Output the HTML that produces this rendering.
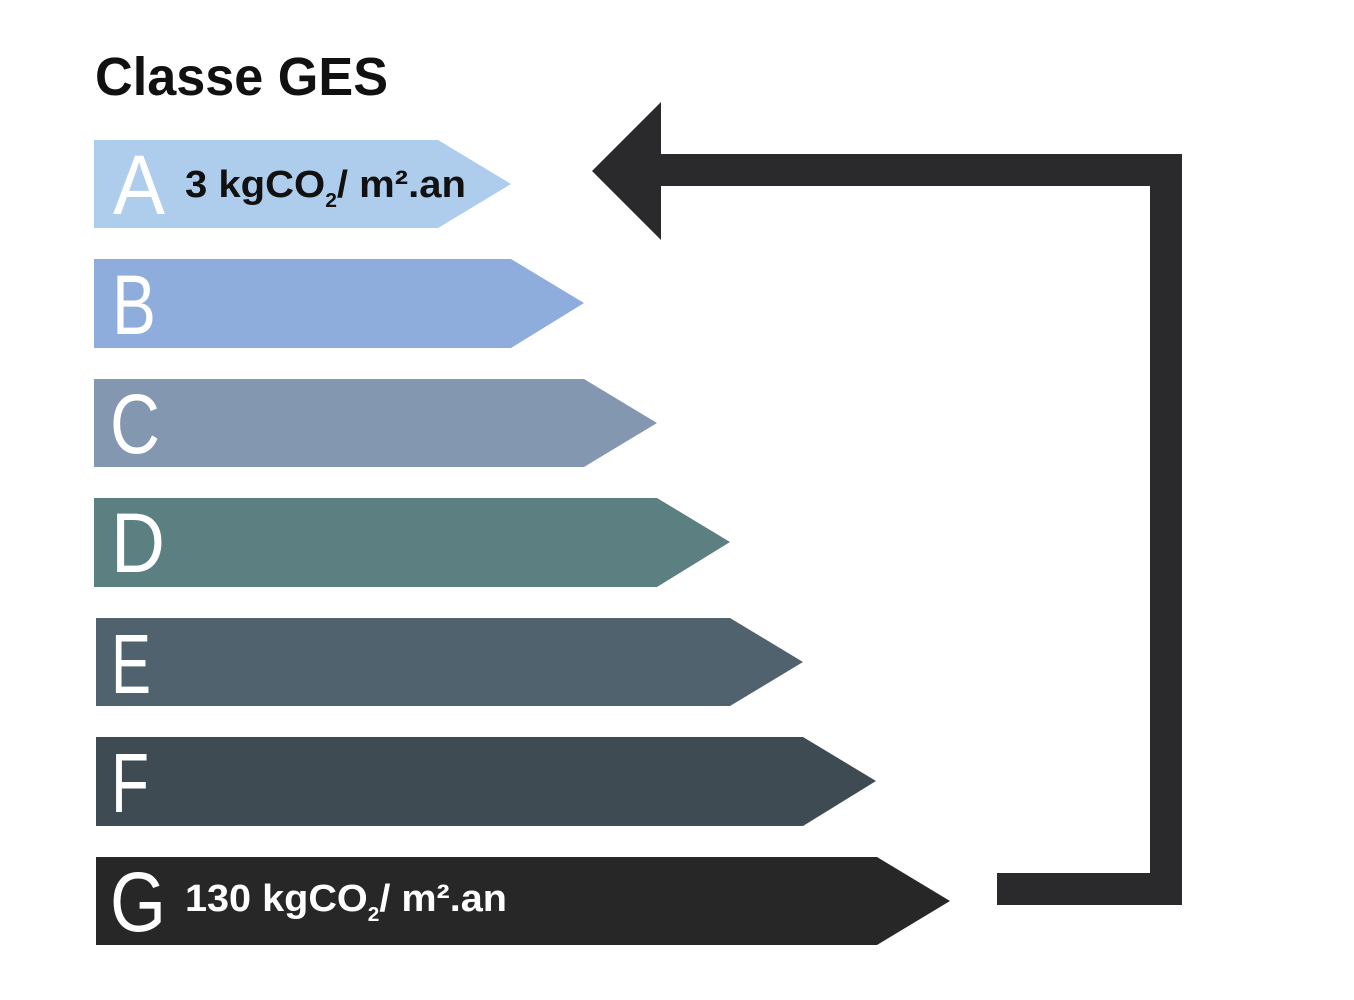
<!DOCTYPE html>
<html><head><meta charset="utf-8"><style>
html,body{margin:0;padding:0;background:#fff;}
svg{display:block;}
</style></head><body>
<svg width="1354" height="1000" viewBox="0 0 1354 1000" xmlns="http://www.w3.org/2000/svg">
<rect width="1354" height="1000" fill="#fff"/>
<text x="95" y="95" font-family="Liberation Sans, sans-serif" font-weight="bold" font-size="54" fill="#111" textLength="293" lengthAdjust="spacingAndGlyphs">Classe GES</text>

<polygon points="94,140 438,140 511,184 438,228 94,228" fill="#aecdec"/>
<polygon points="94,259 511,259 584,303 511,348 94,348" fill="#8eacdc"/>
<polygon points="94,379 584,379 657,423 584,467 94,467" fill="#8398b0"/>
<polygon points="94,498 657,498 730,542 657,587 94,587" fill="#5c7f82"/>
<polygon points="96,618 730,618 803,662 730,706 96,706" fill="#50626e"/>
<polygon points="96,737 803,737 876,781 803,826 96,826" fill="#3f4b53"/>
<polygon points="96,857 877,857 950,901 877,945 96,945" fill="#272727"/>

<g font-family="Liberation Sans, sans-serif" font-size="84" fill="#fff" lengthAdjust="spacingAndGlyphs">
<text x="113" y="214" textLength="52" lengthAdjust="spacingAndGlyphs">A</text>
<text x="112" y="334" textLength="44" lengthAdjust="spacingAndGlyphs">B</text>
<text x="110" y="453" textLength="50" lengthAdjust="spacingAndGlyphs">C</text>
<text x="111" y="572" textLength="54" lengthAdjust="spacingAndGlyphs">D</text>
<text x="111" y="693" textLength="40" lengthAdjust="spacingAndGlyphs">E</text>
<text x="111" y="812" textLength="38" lengthAdjust="spacingAndGlyphs">F</text>
<text x="110" y="931" textLength="56" lengthAdjust="spacingAndGlyphs">G</text>
</g>

<text x="185" y="197" font-family="Liberation Sans, sans-serif" font-weight="bold" font-size="38" fill="#111" textLength="281" lengthAdjust="spacingAndGlyphs">3 kgCO<tspan font-size="20" dy="10">2</tspan><tspan dy="-10">/ m²</tspan>.an</text>
<text x="185" y="911" font-family="Liberation Sans, sans-serif" font-weight="bold" font-size="38" fill="#fff" textLength="322" lengthAdjust="spacingAndGlyphs">130 kgCO<tspan font-size="20" dy="10">2</tspan><tspan dy="-10">/ m²</tspan>.an</text>

<g fill="#2a2a2c">
<rect x="655" y="154" width="527" height="32"/>
<rect x="1150" y="154" width="32" height="751"/>
<rect x="997" y="873" width="185" height="32"/>
<polygon points="592,171 661,102 661,240"/>
</g>
</svg>
</body></html>
